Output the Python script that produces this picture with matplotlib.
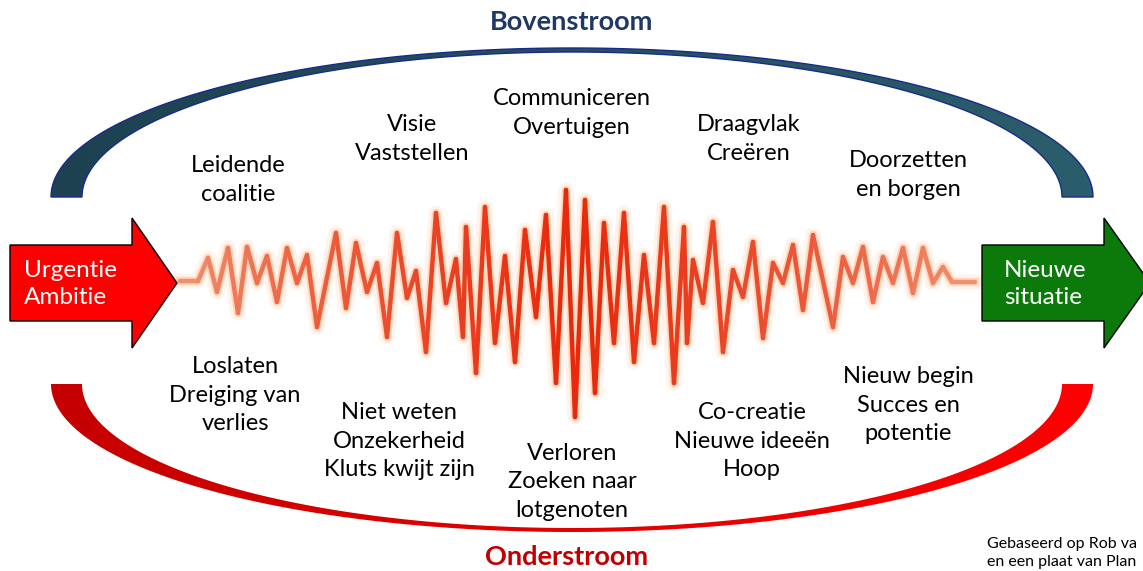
import numpy as np
import matplotlib.pyplot as plt
from matplotlib.patches import Polygon
from matplotlib.collections import LineCollection
from matplotlib.colors import LinearSegmentedColormap, to_rgb

plt.rcParams['font.family'] = ['Lato', 'DejaVu Sans']

# waveform vertices (pixel coords, y down)
wave_x = [180, 198, 208, 217, 228, 238, 247, 257, 267, 277, 287, 297, 307, 317,
          336, 346, 356, 367, 377, 387, 397, 407, 416, 426, 436, 446, 456, 463,
          466, 476, 485, 495, 505, 515, 525, 536, 546, 556, 566, 575, 585, 595,
          604, 614, 624, 634, 644, 654, 664, 674, 684, 687, 693, 703, 713, 723,
          733, 743, 753, 763, 773, 783, 793, 803, 813, 833, 843, 853, 863, 873,
          883, 893, 903, 913, 923, 933, 943, 952, 975]
wave_y = [281, 281, 258, 292, 248, 313, 247, 283, 256, 302, 248, 283, 255, 327,
          233, 308, 243, 292, 263, 337, 233, 298, 271, 352, 213, 303, 259, 337,
          227, 373, 207, 343, 256, 362, 230, 317, 215, 383, 190, 417, 200, 393,
          223, 343, 213, 362, 255, 343, 207, 383, 227, 343, 260, 303, 222, 352,
          270, 297, 242, 338, 263, 283, 245, 310, 235, 327, 257, 283, 247, 302,
          257, 283, 248, 293, 248, 283, 267, 282, 282]

top_labels = ["Leidende\ncoalitie", "Visie\nVaststellen", "Communiceren\nOvertuigen",
              "Draagvlak\nCreëren", "Doorzetten\nen borgen"]
top_pos = [(238, 180), (412, 139), (572, 113), (749, 139), (908, 175)]

bottom_labels = ["Loslaten\nDreiging van\nverlies", "Niet weten\nOnzekerheid\nKluts kwijt zijn",
                 "Verloren\nZoeken naar\nlotgenoten", "Co-creatie\nNieuwe ideeën\nHoop",
                 "Nieuw begin\nSucces en\npotentie"]
bottom_pos = [(235, 395), (399, 441), (572, 482), (752, 441), (908, 405)]

fig = plt.figure(figsize=(11.43, 5.71), dpi=100)
ax = fig.add_axes([0, 0, 1, 1])
ax.set_xlim(0, 1143)
ax.set_ylim(571, 0)
ax.axis('off')


def crescent(cx, cy, a_out, b_out, a_in, b_in, up=True):
    t = np.linspace(np.pi, 0, 200)
    s = -1 if up else 1
    xo = cx + a_out * np.cos(t)
    yo = cy + s * b_out * np.sin(t)
    xi = cx + a_in * np.cos(t[::-1])
    yi = cy + s * b_in * np.sin(t[::-1])
    return np.column_stack([np.r_[xo, xi], np.r_[yo, yi]])


def gradient_fill(pts, c1, c2, edge, z=2):
    poly = Polygon(pts, closed=True, facecolor='none', edgecolor=edge, lw=1.0, zorder=z + 1)
    ax.add_patch(poly)
    cmap = LinearSegmentedColormap.from_list('g', [c1, c2])
    grad = np.linspace(0, 1, 256).reshape(1, -1)
    im = ax.imshow(grad, cmap=cmap, aspect='auto', zorder=z,
                   extent=[pts[:, 0].min(), pts[:, 0].max(), pts[:, 1].max(), pts[:, 1].min()])
    im.set_clip_path(poly)


# upper and lower arcs
gradient_fill(crescent(572, 197, 521, 149, 490, 145, up=True), '#1d4150', '#2b5e6c', '#1a2a8a')
gradient_fill(crescent(572, 384, 521, 148, 490, 144, up=False), '#c40000', '#ff0000', 'none')
ax.set_xlim(0, 1143)
ax.set_ylim(571, 0)

# waveform with soft glow
wx = np.array(wave_x, dtype=float)
wy = np.array(wave_y, dtype=float)
ax.plot(wx, wy, color='#ffe6d4', lw=11, alpha=0.45, solid_joinstyle='round', zorder=4)
ax.plot(wx, wy, color='#ffb585', lw=6, alpha=0.45, solid_joinstyle='round', zorder=5)
segs = np.stack([np.column_stack([wx[:-1], wy[:-1]]), np.column_stack([wx[1:], wy[1:]])], axis=1)
mid = (wx[:-1] + wx[1:]) / 2
w = np.clip(1 - np.abs(mid - 575) / 400, 0, 1) ** 0.6
c_end = np.array(to_rgb('#f0a080'))
c_mid = np.array(to_rgb('#e8280a'))
cols = c_end[None, :] * (1 - w[:, None]) + c_mid[None, :] * w[:, None]
ax.add_collection(LineCollection(segs, colors=cols, linewidths=3.2, zorder=6,
                                 joinstyle='round', capstyle='round'))


def arrow(x0, xb, xt, yc, hb, hh, color):
    pts = [(x0, yc - hb), (xb, yc - hb), (xb, yc - hh), (xt, yc), (xb, yc + hh),
           (xb, yc + hb), (x0, yc + hb)]
    ax.add_patch(Polygon(pts, closed=True, facecolor=color, edgecolor='black', lw=1.0, zorder=7))


arrow(10, 132, 177, 283, 38, 65, '#ff0000')
arrow(982, 1104, 1150, 283, 38, 65, '#0b7a0b')
ax.text(24, 284, "Urgentie\nAmbitie", color='white', fontsize=17.5, ha='left', va='center',
        linespacing=1.4, zorder=8)
ax.text(1004, 284, "Nieuwe\nsituatie", color='white', fontsize=17.5, ha='left', va='center',
        linespacing=1.4, zorder=8)

for lab, (x, y) in zip(top_labels + bottom_labels, top_pos + bottom_pos):
    ax.text(x, y, lab, fontsize=17, ha='center', va='center', linespacing=1.45,
            color='black', zorder=9)

ax.text(572, 22, "Bovenstroom", fontsize=19.5, fontweight='bold', color='#1f3864',
        ha='center', va='center', zorder=9)
ax.text(567, 557, "Onderstroom", fontsize=19.5, fontweight='bold', color='#c00000',
        ha='center', va='center', zorder=9)
ax.text(987, 553, "Gebaseerd op Rob va\nen een plaat van Plan", fontsize=11.5,
        ha='left', va='center', linespacing=1.3, color='black', zorder=9)

fig.savefig('out.png', dpi=100)
